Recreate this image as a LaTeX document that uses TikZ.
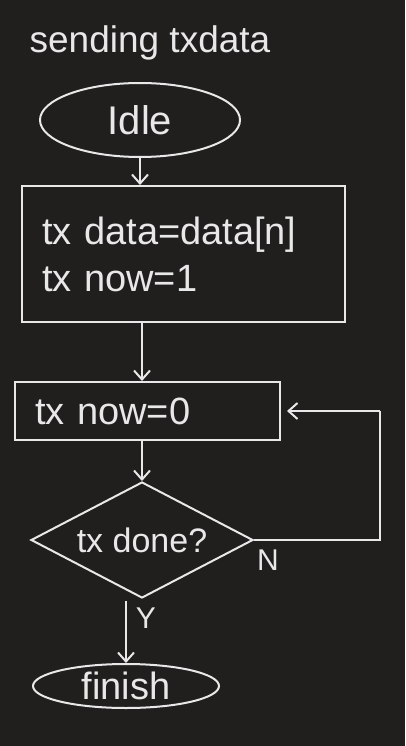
\documentclass[tikz,border=0pt]{standalone}
\usepackage{fontspec}
\setmainfont{Liberation Sans}
\usetikzlibrary{shapes.geometric,arrows.meta}
\definecolor{bgc}{HTML}{201F1E}
\definecolor{inkc}{HTML}{E8E8E8}
\begin{document}
\begin{tikzpicture}[x=1pt,y=-1pt,
  ink/.style={draw=inkc,line width=2pt},
  txt/.style={text=inkc,inner sep=0pt},
  conn/.style={ink,-{Straight Barb[length=9pt,width=16pt,line width=2pt]}},
  bigf/.style={font=\fontsize{38}{47}\selectfont}]
\fill[bgc] (0,0) rectangle (405,746);
\useasboundingbox (0,0) rectangle (405,746);
\node[txt,font=\fontsize{37}{40}\selectfont] (title) at (150,43) {sending txdata};
\node[ink,txt,ellipse,minimum width=200pt,minimum height=74pt,font=\fontsize{40}{44}\selectfont] (idle) at (140,120) {Idle};
\node[ink,txt,rectangle,minimum width=323pt,minimum height=136pt,text width=283pt,align=left,bigf] (box1) at (183.5,254) {tx data=data[n]\\tx now=1};
\node[ink,txt,rectangle,minimum width=265pt,minimum height=58pt,text width=225pt,align=left,bigf] (box2) at (147.5,411) {tx now=0};
\node[ink,txt,diamond,minimum width=222pt,minimum height=116pt,aspect=1.9,font=\fontsize{34}{38}\selectfont] (dia) at (142,540) {tx done?};
\node[ink,txt,ellipse,minimum width=186pt,minimum height=44pt,font=\fontsize{38}{40}\selectfont] (fin) at (126,686) {finish};
\node[txt,font=\fontsize{30}{34}\selectfont] (nlab) at (268,560) {N};
\node[txt,font=\fontsize{30}{34}\selectfont] (ylab) at (146,618) {Y};
\coordinate (loopc) at (380,411);
\draw[conn] (idle.south) -- (idle.south |- box1.north);
\draw[conn] (box1.south -| dia.north) -- (box2.north -| dia.north);
\draw[conn] (box2.south -| dia.north) -- (dia.north);
\draw[conn] ([yshift=-2pt]dia.south -| fin.north) -- (fin.north);
\draw[ink] (dia.east) -| (loopc);
\draw[conn] (loopc) -- ([xshift=6pt]box2.east);
\end{tikzpicture}
\end{document}
